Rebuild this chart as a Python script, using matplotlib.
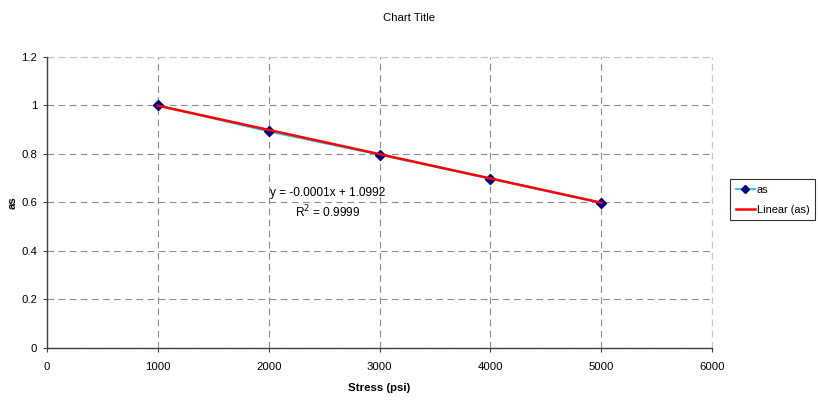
import matplotlib
matplotlib.use("Agg")
import matplotlib.pyplot as plt
import numpy as np

plt.rcParams["font.family"] = ["Liberation Sans", "DejaVu Sans"]

# measured values
stress = [1000, 2000, 3000, 4000, 5000]
as_values = [1.0, 0.893, 0.797, 0.698, 0.598]

# linear trendline coefficients (as shown in the equation label)
slope = -0.0001
intercept = 1.0992
r_squared = 0.9999

x_ticks = [0, 1000, 2000, 3000, 4000, 5000, 6000]
y_ticks = [0, 0.2, 0.4, 0.6, 0.8, 1, 1.2]
y_tick_labels = ["0", "0.2", "0.4", "0.6", "0.8", "1", "1.2"]

FS = 8.2

fig = plt.figure(figsize=(8.18, 4.01), dpi=100)
ax = fig.add_axes([0.0575, 0.1322, 0.8130, 0.7257])

ax.set_xlim(0, 6000)
ax.set_ylim(0, 1.2)
ax.set_xticks(x_ticks)
ax.set_xticklabels([str(t) for t in x_ticks])
ax.set_yticks(y_ticks)
ax.set_yticklabels(y_tick_labels)
ax.tick_params(axis="both", labelsize=FS, length=3, width=0.8, color="#404040", direction="out")
ax.tick_params(axis="x", pad=7)
ax.tick_params(axis="y", pad=4)

ax.grid(True, color="#8c8c8c", linestyle=(0, (6, 4)), linewidth=0.8)
ax.set_axisbelow(True)
for side in ("top", "right"):
    ax.spines[side].set_visible(False)
for side in ("left", "bottom"):
    ax.spines[side].set_color("#404040")
    ax.spines[side].set_linewidth(1.0)

# extra dashed lines along the top and right edge of the plot area
ax.axhline(1.2, color="#c8c8c8", linestyle=(0, (6, 4)), linewidth=0.8, clip_on=False)
ax.axvline(6000, color="#c8c8c8", linestyle=(0, (6, 4)), linewidth=0.8, clip_on=False)

ax.plot(stress, as_values, color="#33CCEE", linewidth=1.5, marker="D",
        markersize=5, markerfacecolor="#000080", markeredgecolor="#000080",
        label="as", zorder=3)

trend_x = np.array([stress[0], stress[-1]])
ax.plot(trend_x, slope * trend_x + intercept, color="#FF0000", linewidth=1.8,
        label="Linear (as)", zorder=4)

ax.text(2535, 0.638, f"y = {slope:.4f}x + {intercept:.4f}", fontsize=8.6,
        ha="center", va="center")
ax.text(2535, 0.561, f"R$^2$ = {r_squared}", fontsize=8.6, ha="center", va="center")

ax.set_xlabel("Stress (psi)", fontsize=FS, fontweight="bold", labelpad=8)
ax.set_ylabel("as", fontsize=FS, fontweight="bold", labelpad=3)
fig.text(0.5, 0.955, "Chart Title", fontsize=FS, ha="center", va="center")

leg = ax.legend(loc="center left", bbox_to_anchor=(1.027, 0.51), fontsize=7.9,
                frameon=True, fancybox=False, handlelength=1.8, handletextpad=0.15,
                borderpad=0.5, borderaxespad=0, labelspacing=0.9, markerscale=0.8)
leg.get_frame().set_edgecolor("#000000")
leg.get_frame().set_linewidth(0.8)

fig.savefig("out.png", dpi=100)
